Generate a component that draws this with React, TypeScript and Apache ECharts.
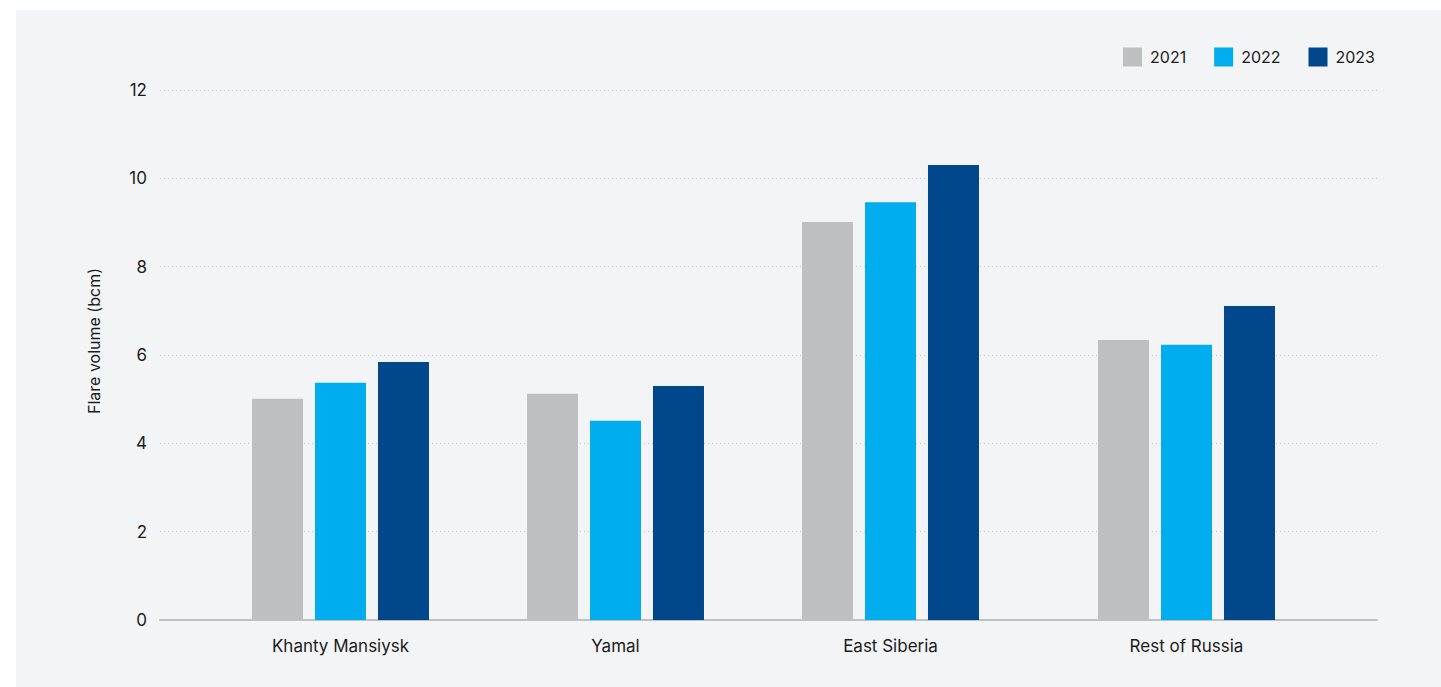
import React, { useEffect, useRef } from "react";
import * as echarts from "echarts";

const regions = ["Khanty Mansiysk", "Yamal", "East Siberia", "Rest of Russia"];
const years = ["2021", "2022", "2023"];
const values2021 = [5.01, 5.12, 9.01, 6.34];
const values2022 = [5.37, 4.51, 9.46, 6.23];
const values2023 = [5.84, 5.3, 10.3, 7.11];
const yTicks = { min: 0, max: 12, interval: 2 };

const seriesValues = [values2021, values2022, values2023];
const colors = ["#bebfc1", "#00adee", "#00478c"];
// horizontal centre of each region group (layout)
const groupCenters = [340.5, 615.5, 890.5, 1186.5];
const bandWidth = 274;
const FONT = "Inter, 'Noto Sans', sans-serif";

export default function App() {
  const ref = useRef<HTMLDivElement>(null);
  useEffect(() => {
    document.body.style.margin = "0";
    if (!ref.current) return;
    const chart = echarts.init(ref.current, undefined, { renderer: "svg" });
    const W = 1441;
    const top = 90;
    const bottom = 67;

    const grids: any[] = [{ left: 160, right: W - 1377, top, bottom }];
    const xAxes: any[] = [
      {
        type: "category",
        gridIndex: 0,
        data: [""],
        axisLine: { show: true, lineStyle: { color: "#bfc0c2", width: 2 } },
        axisTick: { show: false },
        axisLabel: { show: false },
        splitLine: { show: false },
      },
    ];
    const yAxes: any[] = [
      {
        type: "value",
        gridIndex: 0,
        min: yTicks.min,
        max: yTicks.max,
        interval: yTicks.interval,
        name: "Flare volume (bcm)",
        nameLocation: "middle",
        nameGap: 58,
        nameRotate: 90,
        nameTextStyle: {
          fontFamily: FONT,
          fontSize: 16,
          color: "#1c1c1c",
          padding: [0, 0, 0, 28],
        },
        axisLine: { show: false },
        axisTick: { show: false },
        axisLabel: {
          fontFamily: FONT,
          fontSize: 17,
          color: "#1c1c1c",
          margin: 13,
        },
        splitLine: {
          show: true,
          lineStyle: { color: "#c4c5c7", type: [1, 3], width: 1 },
        },
      },
    ];
    const series: any[] = [];

    regions.forEach((region, i) => {
      const g = i + 1;
      grids.push({
        left: groupCenters[i] - bandWidth / 2,
        width: bandWidth,
        top,
        bottom,
      });
      xAxes.push({
        type: "category",
        gridIndex: g,
        data: [region],
        axisLine: { show: false },
        axisTick: { show: false },
        axisLabel: {
          fontFamily: FONT,
          fontSize: 17,
          color: "#1c1c1c",
          margin: 17,
        },
      });
      yAxes.push({
        type: "value",
        gridIndex: g,
        min: yTicks.min,
        max: yTicks.max,
        interval: yTicks.interval,
        show: false,
        splitLine: { show: false },
      });
      years.forEach((year, s) => {
        series.push({
          type: "bar",
          name: year,
          xAxisIndex: g,
          yAxisIndex: g,
          data: [seriesValues[s][i]],
          barWidth: 51,
          barGap: "23.5%",
          itemStyle: { color: colors[s] },
          z: 3,
        });
      });
    });

    chart.setOption({
      animation: false,
      backgroundColor: "#ffffff",
      color: colors,
      graphic: [
        {
          type: "rect",
          shape: { x: 16, y: 10, width: 1425, height: 677 },
          style: { fill: "#f3f4f6" },
          z: -10,
          silent: true,
        },
      ],
      legend: {
        data: years,
        right: 61,
        top: 42.5,
        itemWidth: 19,
        itemHeight: 19,
        itemGap: 28,
        icon: "rect",
        textStyle: {
          fontFamily: FONT,
          fontSize: 16,
          color: "#1c1c1c",
          padding: [0, 0, 0, 3],
        },
      },
      grid: grids,
      xAxis: xAxes,
      yAxis: yAxes,
      series,
    });
    return () => chart.dispose();
  }, []);
  return <div ref={ref} style={{ width: 1441, height: 687 }} />;
}
